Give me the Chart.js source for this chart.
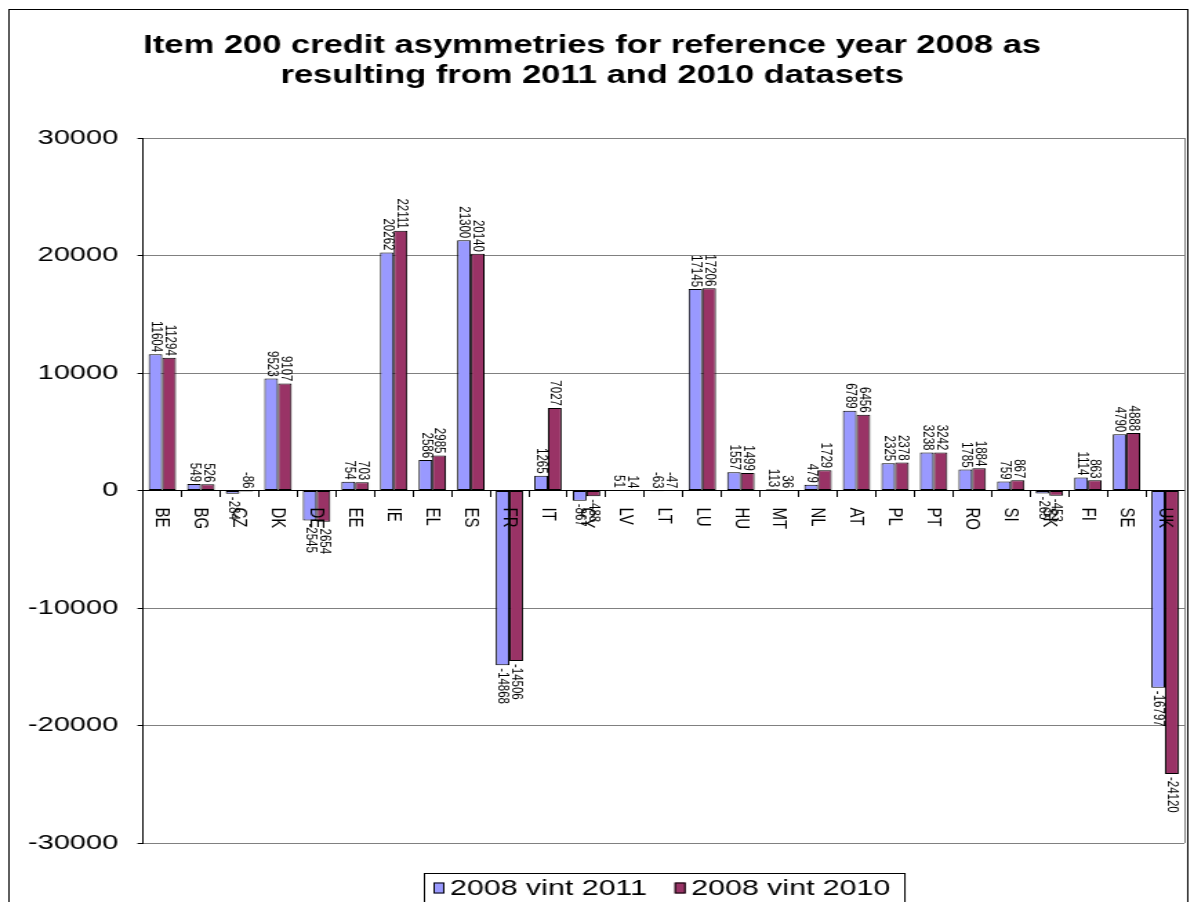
<!DOCTYPE html>
<html>
<head>
<meta charset="utf-8">
<title>Item 200 credit asymmetries</title>
<script src="https://cdn.jsdelivr.net/npm/chart.js@4.4.1/dist/chart.umd.min.js"></script>
<style>
  html, body { margin: 0; padding: 0; background: #fff; overflow: hidden; }
  /* the chart is drawn on a narrower canvas and widened to the page width */
  #myChart { display: block; width: 1194px; height: 902px; }
</style>
</head>
<body>
<canvas id="myChart" width="865" height="902" style="width:1194px;height:902px"></canvas>
<script>
const countries = ["BE", "BG", "CZ", "DK", "DE", "EE", "IE", "EL", "ES", "FR", "IT", "CY", "LV", "LT",
  "LU", "HU", "MT", "NL", "AT", "PL", "PT", "RO", "SI", "SK", "FI", "SE", "UK"];
const vint2011 = [11604, 549, -284, 9523, -2545, 754, 20262, 2586, 21300, -14868, 1265, -867, 51, -63,
  17145, 1557, 113, 479, 6789, 2325, 3238, 1785, 759, -265, 1114, 4790, -16797];
const vint2010 = [11294, 526, -86, 9107, -2654, 703, 22111, 2985, 20140, -14506, 7027, -488, 14, -47,
  17206, 1499, 36, 1729, 6456, 2378, 3242, 1884, 867, -453, 863, 4888, -24120];
const yTicks = [-30000, -20000, -10000, 0, 10000, 20000, 30000];
const seriesNames = ["2008 vint 2011", "2008 vint 2010"];
const titleLines = ["Item 200 credit asymmetries for reference year 2008 as",
  "resulting from 2011 and 2010 datasets"];

const FONT = "'Liberation Sans', Arial, sans-serif";

// white page with the thin outer frame
const framePlugin = {
  id: "frame",
  beforeDraw(chart) {
    const ctx = chart.ctx;
    ctx.save();
    ctx.fillStyle = "#fff";
    ctx.fillRect(0, 0, chart.width, chart.height);
    ctx.strokeStyle = "#000";
    ctx.lineWidth = 1;
    ctx.strokeRect(6.5, 9.5, 854, 1000);
    ctx.restore();
  },
  beforeDatasetsDraw(chart) {
    // grey line closing the plot area on the right
    const { ctx, chartArea } = chart;
    ctx.save();
    ctx.strokeStyle = "#808080";
    ctx.lineWidth = 1;
    ctx.beginPath();
    ctx.moveTo(Math.round(chartArea.right) + 0.5, chartArea.top);
    ctx.lineTo(Math.round(chartArea.right) + 0.5, chartArea.bottom);
    ctx.stroke();
    ctx.restore();
  },
};

// rotated value labels on the bars and country names under the zero line
const labelPlugin = {
  id: "barLabels",
  afterDatasetsDraw(chart) {
    const ctx = chart.ctx;
    const xScale = chart.scales.x;
    const zeroY = chart.scales.y.getPixelForValue(0);
    ctx.save();
    ctx.fillStyle = "#000";
    ctx.textBaseline = "middle";

    ctx.font = "11.5px " + FONT;
    chart.data.datasets.forEach((ds, di) => {
      const meta = chart.getDatasetMeta(di);
      meta.data.forEach((bar, i) => {
        const v = ds.data[i];
        ctx.save();
        if (v > -100) {
          ctx.translate(bar.x + 0.5, Math.min(bar.y, zeroY) - 2);
          ctx.rotate(Math.PI / 2);
          ctx.textAlign = "right";
        } else {
          ctx.translate(bar.x + 0.5, bar.y + 3);
          ctx.rotate(Math.PI / 2);
          ctx.textAlign = "left";
        }
        ctx.fillText(String(v), 0, 0);
        ctx.restore();
      });
    });

    ctx.font = "15px " + FONT;
    countries.forEach((c, i) => {
      ctx.save();
      ctx.translate(xScale.getPixelForValue(i), zeroY + 17);
      ctx.rotate(Math.PI / 2);
      ctx.textAlign = "left";
      ctx.fillText(c, 0, 0);
      ctx.restore();
    });
    ctx.restore();
  },
};

// boxed legend at the bottom
const legendPlugin = {
  id: "boxLegend",
  afterDraw(chart) {
    const ctx = chart.ctx;
    const area = chart.chartArea;
    ctx.save();
    ctx.font = "22px " + FONT;
    const items = chart.data.datasets.map((ds) => ({
      label: ds.label,
      color: ds.backgroundColor,
      w: ctx.measureText(ds.label).width,
    }));
    const sqW = 8, sqH = 11, gap = 4, between = 20, padL = 7, padR = 10;
    let total = padL + padR;
    items.forEach((it, i) => { total += sqW + gap + it.w + (i > 0 ? between : 0); });
    const left = Math.round((area.left + area.right) / 2 - total / 2);
    const top = 873, midY = 888;

    ctx.strokeStyle = "#000";
    ctx.lineWidth = 1;
    ctx.strokeRect(left + 0.5, top + 0.5, total, 40);

    let x = left + padL;
    ctx.textBaseline = "middle";
    ctx.textAlign = "left";
    items.forEach((it, i) => {
      if (i > 0) x += between;
      ctx.fillStyle = it.color;
      ctx.fillRect(x, midY - sqH / 2, sqW, sqH);
      ctx.strokeRect(x + 0.5, midY - sqH / 2 + 0.5, sqW - 1, sqH - 1);
      x += sqW + gap;
      ctx.fillStyle = "#000";
      ctx.fillText(it.label, x, midY + 1);
      x += it.w;
    });
    ctx.restore();
  },
};

const ctx = document.getElementById("myChart").getContext("2d");
const chart = new Chart(ctx, {
  type: "bar",
  data: {
    labels: countries,
    datasets: [
      {
        label: seriesNames[0],
        data: vint2011,
        backgroundColor: "#9999FF",
        borderColor: "#000",
        borderWidth: 1,
        borderSkipped: false,
      },
      {
        label: seriesNames[1],
        data: vint2010,
        backgroundColor: "#993366",
        borderColor: "#000",
        borderWidth: 1,
        borderSkipped: false,
      },
    ],
  },
  options: {
    responsive: false,
    animation: false,
    devicePixelRatio: 1,
    categoryPercentage: 0.71,
    barPercentage: 1.0,
    layout: { padding: { left: 0, right: 7, top: 0, bottom: 59 } },
    plugins: {
      legend: { display: false },
      tooltip: { enabled: false },
      title: {
        display: true,
        text: titleLines,
        color: "#000",
        font: { family: FONT, size: 25, weight: "bold", lineHeight: 1.2 },
        padding: { top: 31, bottom: 47 },
      },
    },
    scales: {
      x: {
        position: { y: 0 },
        ticks: { display: false },
        grid: { drawOnChartArea: false, offset: true, color: "#000", tickLength: 6 },
        border: { color: "#000", width: 1 },
      },
      y: {
        min: -30000,
        max: 30000,
        afterBuildTicks: (scale) => { scale.ticks = yTicks.map((v) => ({ value: v })); },
        afterFit: (scale) => { scale.width = 103.6; },
        ticks: {
          color: "#000",
          font: { family: FONT, size: 21 },
          padding: 14,
          callback: (v) => String(v),
        },
        grid: { color: "#808080", tickLength: 4, tickColor: "#000" },
        border: { color: "#000", width: 1 },
      },
    },
  },
  plugins: [framePlugin, labelPlugin, legendPlugin],
});
</script>
</body>
</html>
